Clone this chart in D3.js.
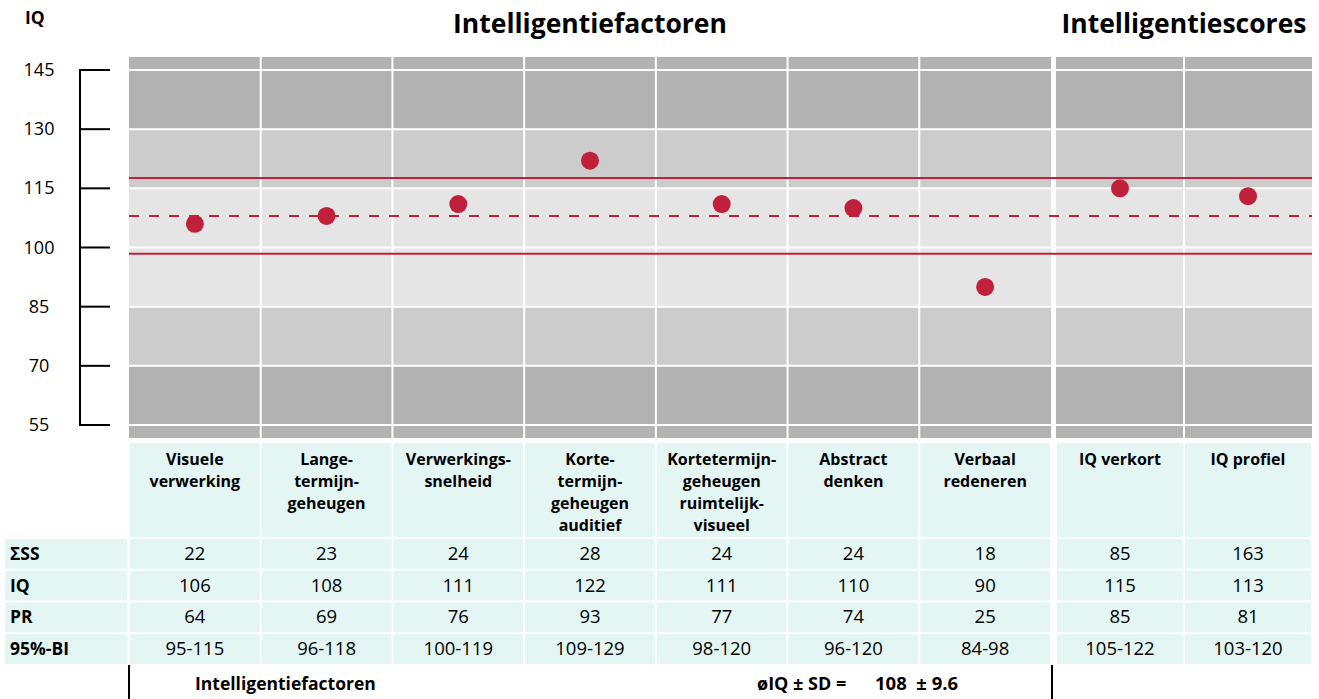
<!DOCTYPE html>
<html>
<head>
<meta charset="utf-8">
<script src="https://cdn.jsdelivr.net/npm/d3@7"></script>
<style>
  body { margin: 0; background: #fff; }
  svg { display: block; font-family: "Open Sans", Lato, sans-serif; }
</style>
</head>
<body>
<div id="viz"></div>
<script>
// ====================
// DATA
// ====================
const factorNames = [
  'Visuele verwerking', 'Lange-termijn-geheugen', 'Verwerkings-snelheid',
  'Korte-termijn-geheugen auditief', 'Kortetermijn-geheugen ruimtelijk-visueel',
  'Abstract denken', 'Verbaal redeneren'
];
// header lines as they are broken in the table
const headerLines = [
  ['Visuele', 'verwerking'],
  ['Lange-', 'termijn-', 'geheugen'],
  ['Verwerkings-', 'snelheid'],
  ['Korte-', 'termijn-', 'geheugen', 'auditief'],
  ['Kortetermijn-', 'geheugen', 'ruimtelijk-', 'visueel'],
  ['Abstract', 'denken'],
  ['Verbaal', 'redeneren'],
  ['IQ verkort'],
  ['IQ profiel']
];
const scoreNames = ['IQ verkort', 'IQ profiel'];
const allNames = factorNames.concat(scoreNames);

const sumSS = [22, 23, 24, 28, 24, 24, 18, 85, 163];
const iqValues = [106, 108, 111, 122, 111, 110, 90, 115, 113];
const prValues = [64, 69, 76, 93, 77, 74, 25, 85, 81];
const ciValues = ['95-115', '96-118', '100-119', '109-129', '98-120', '96-120', '84-98', '105-122', '103-120'];
const rowLabels = ['ΣSS', 'IQ', 'PR', '95%-BI'];

const yTicks = [55, 70, 85, 100, 115, 130, 145];
const meanIQ = 108;
const sdIQ = 9.6;

// ====================
// SETUP
// ====================
const width = 1319;
const height = 699;

const plotTop = 57;
const plotBottom = 438;

const y = d3.scaleLinear().domain([55, 145]).range([425, 70]);
const xFactor = d3.scaleBand().domain(factorNames).range([129, 1051]);
const xScore = d3.scaleBand().domain(scoreNames).range([1056, 1312]);
const xPos = (name) => factorNames.includes(name) ? xFactor(name) : xScore(name);
const xBw = (name) => factorNames.includes(name) ? xFactor.bandwidth() : xScore.bandwidth();

const red = '#c0203a';
const dark = '#b2b2b2';
const mid = '#cccccc';
const light = '#e5e5e5';
const cyan = '#e3f6f4';

const svg = d3.select('#viz').append('svg')
  .attr('width', width)
  .attr('height', height);

// ====================
// BACKGROUND BANDS
// ====================
const bandColor = (lo) => {
  const d = Math.abs(lo + 7.5 - 100);
  if (d < 15) return light;
  if (d < 30) return mid;
  return dark;
};
const bandEdges = [y.invert(plotBottom)].concat(yTicks, [y.invert(plotTop)]);
const bands = d3.pairs(bandEdges);

const bg = svg.append('g');
bg.selectAll('rect')
  .data(bands)
  .join('rect')
  .attr('x', 129)
  .attr('width', 1312 - 129)
  .attr('y', d => y(d[1]))
  .attr('height', d => y(d[0]) - y(d[1]))
  .attr('fill', d => bandColor(d[0]));

// horizontal white grid lines
bg.selectAll('line.h')
  .data(yTicks)
  .join('line')
  .attr('class', 'h')
  .attr('x1', 129).attr('x2', 1312)
  .attr('y1', d => y(d)).attr('y2', d => y(d))
  .attr('stroke', '#fff')
  .attr('stroke-width', 2);

// vertical white separators
const innerBounds = factorNames.slice(1).map(n => xFactor(n))
  .concat(scoreNames.slice(1).map(n => xScore(n)));
bg.selectAll('line.v')
  .data(innerBounds)
  .join('line')
  .attr('class', 'v')
  .attr('x1', d => d).attr('x2', d => d)
  .attr('y1', plotTop).attr('y2', plotBottom)
  .attr('stroke', '#fff')
  .attr('stroke-width', 2);

// wide gap between factors and scores
bg.append('rect')
  .attr('x', 1051).attr('width', 5)
  .attr('y', plotTop).attr('height', plotBottom - plotTop)
  .attr('fill', '#fff');

// ====================
// MEAN +- SD LINES
// ====================
const lines = svg.append('g');
[meanIQ + sdIQ, meanIQ - sdIQ].forEach(v => {
  lines.append('line')
    .attr('x1', 129).attr('x2', 1312)
    .attr('y1', y(v)).attr('y2', y(v))
    .attr('stroke', red)
    .attr('stroke-width', 2);
});
lines.append('line')
  .attr('x1', 129).attr('x2', 1312)
  .attr('y1', y(meanIQ)).attr('y2', y(meanIQ))
  .attr('stroke', red)
  .attr('stroke-width', 2)
  .attr('stroke-dasharray', '10,10');

// ====================
// DOTS
// ====================
svg.append('g')
  .selectAll('circle')
  .data(allNames)
  .join('circle')
  .attr('cx', (d) => xPos(d) + xBw(d) / 2)
  .attr('cy', (d, i) => y(iqValues[i]))
  .attr('r', 9)
  .attr('fill', red);

// ====================
// Y AXIS
// ====================
const axis = svg.append('g');
axis.append('line')
  .attr('x1', 80).attr('x2', 80)
  .attr('y1', y(145)).attr('y2', y(55))
  .attr('stroke', '#000').attr('stroke-width', 2);
axis.selectAll('line.tick')
  .data(yTicks)
  .join('line')
  .attr('class', 'tick')
  .attr('x1', 79).attr('x2', 110)
  .attr('y1', d => y(d)).attr('y2', d => y(d))
  .attr('stroke', '#000').attr('stroke-width', 2);
axis.selectAll('text')
  .data(yTicks)
  .join('text')
  .attr('x', 39)
  .attr('y', d => y(d) + 6)
  .attr('text-anchor', 'middle')
  .attr('font-size', 18)
  .attr('fill', '#000')
  .text(d => d);

// ====================
// TITLES
// ====================
svg.append('text').attr('x', 25).attr('y', 24)
  .attr('font-size', 17.5).attr('font-weight', 'bold').text('IQ');
svg.append('text').attr('x', 590).attr('y', 33)
  .attr('text-anchor', 'middle')
  .attr('font-size', 26.5).attr('font-weight', 'bold').text('Intelligentiefactoren');
svg.append('text').attr('x', 1184).attr('y', 33)
  .attr('text-anchor', 'middle')
  .attr('font-size', 26.5).attr('font-weight', 'bold').text('Intelligentiescores');

// ====================
// TABLE
// ====================
const table = svg.append('g');
const rowY = d3.scaleBand().domain(rowLabels).range([539, 664]).paddingInner(0.06);

// header cells
const header = table.selectAll('g.head')
  .data(allNames)
  .join('g')
  .attr('class', 'head');
header.append('rect')
  .attr('x', d => xPos(d) + 1)
  .attr('width', d => xBw(d) - 2)
  .attr('y', 443)
  .attr('height', 94)
  .attr('fill', cyan);
header.each(function(d, i) {
  d3.select(this).selectAll('text')
    .data(headerLines[i])
    .join('text')
    .attr('x', xPos(d) + xBw(d) / 2)
    .attr('y', (t, j) => 465 + j * 22)
    .attr('text-anchor', 'middle')
    .attr('font-size', 16)
    .attr('font-weight', 'bold')
    .text(t => t);
});

// data rows
const rowData = [sumSS, iqValues, prValues, ciValues];
rowLabels.forEach((label, r) => {
  const ry = rowY(label);
  const rh = rowY.bandwidth();
  table.append('rect')
    .attr('x', 5).attr('width', 122)
    .attr('y', ry).attr('height', rh)
    .attr('fill', cyan);
  table.append('text')
    .attr('x', 10).attr('y', ry + rh / 2 + 6)
    .attr('font-size', 17.5).attr('font-weight', 'bold')
    .text(label);
  allNames.forEach((name, c) => {
    table.append('rect')
      .attr('x', xPos(name) + 1).attr('width', xBw(name) - 2)
      .attr('y', ry).attr('height', rh)
      .attr('fill', cyan);
    table.append('text')
      .attr('x', xPos(name) + xBw(name) / 2)
      .attr('y', ry + rh / 2 + 6)
      .attr('text-anchor', 'middle')
      .attr('font-size', 18.5)
      .text(rowData[r][c]);
  });
});

// ====================
// FOOTER
// ====================
const foot = svg.append('g');
[129, 1052].forEach(x => {
  foot.append('line')
    .attr('x1', x).attr('x2', x)
    .attr('y1', 665).attr('y2', 699)
    .attr('stroke', '#000').attr('stroke-width', 2);
});
foot.append('text').attr('x', 195).attr('y', 690)
  .attr('font-size', 17.5).attr('font-weight', 'bold').text('Intelligentiefactoren');
foot.append('text').attr('x', 757).attr('y', 690)
  .attr('font-size', 18).attr('font-weight', 'bold').text('øIQ ± SD =');
foot.append('text').attr('x', 875).attr('y', 690)
  .attr('font-size', 18.5).attr('font-weight', 'bold')
  .attr('xml:space', 'preserve')
  .text(`${meanIQ}  ± ${sdIQ}`);
</script>
</body>
</html>
